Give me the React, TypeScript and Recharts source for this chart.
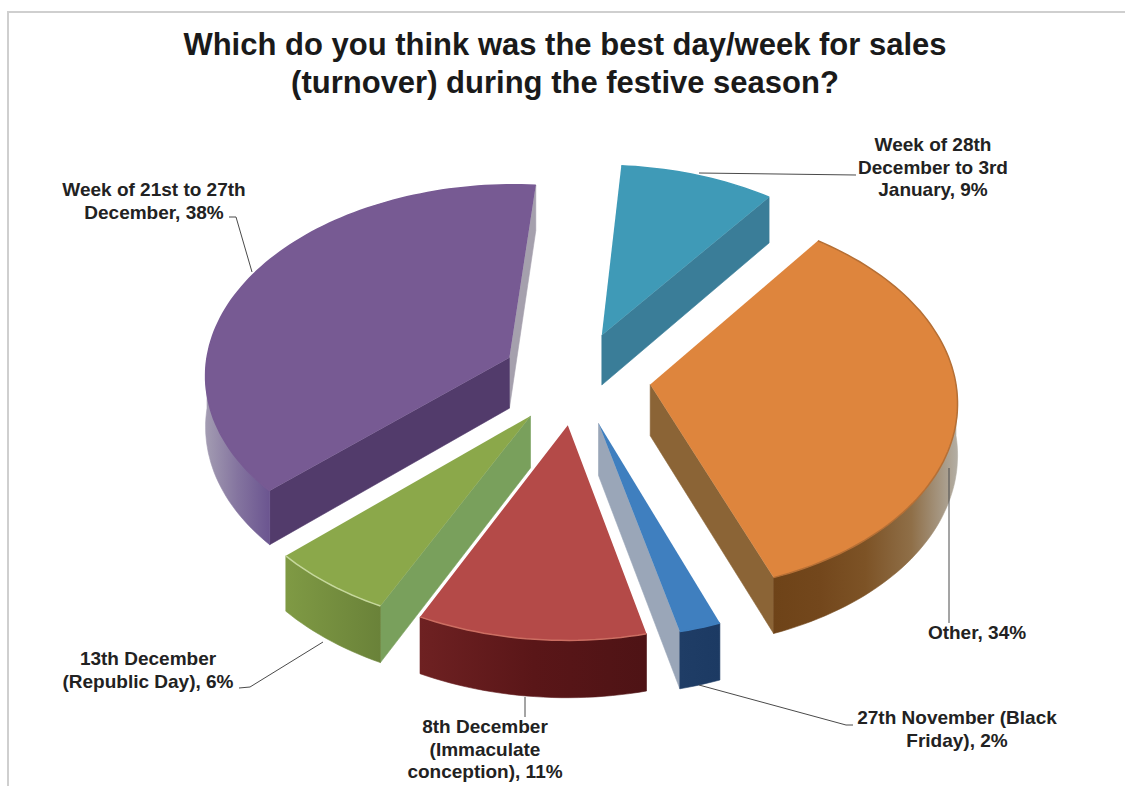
import React from 'react'
import { Pie, PieChart } from 'recharts'

// Listed counter-clockwise from the top so slices paint back to front
const categories = [
  'Week of 21st to 27th December',
  '13th December (Republic Day)',
  '8th December (Immaculate conception)',
  '27th November (Black Friday)',
  'Other',
  'Week of 28th December to 3rd January',
]
const shares = [38, 6, 11, 2, 34, 9]

const labelLines = [
  ['Week of 21st to 27th', 'December, 38%'],
  ['13th December', '(Republic Day), 6%'],
  ['8th December', '(Immaculate', 'conception), 11%'],
  ['27th November (Black', 'Friday), 2%'],
  ['Other, 34%'],
  ['Week of 28th', 'December to 3rd', 'January, 9%'],
]

const data = categories.map((name, i) => ({ name, value: shares[i] }))

const WIDTH = 1125
const HEIGHT = 786
const CENTER_X = 576
const CENTER_Y = 378
const RADIUS = 305
const RADIUS_Y = 190
const PERSPECTIVE = 0.08
const EXPLODE = 0.245
const DEPTH = 51

type SliceStyle = {
  top: string
  rim: string
  cutStart: string
  cutEnd: string
  wall: string[]
}

const sliceStyles: SliceStyle[] = [
  { top: '#775a93', rim: '#775a93', cutStart: '#523b6b', cutEnd: '#a5a0ad', wall: ['#a39cb2', '#84749f', '#6b5590'] },
  { top: '#8ba84a', rim: '#c6d89c', cutStart: '#79a05c', cutEnd: '#79a05c', wall: ['#7f9a44', '#6a8239'] },
  { top: '#b44a48', rim: '#cc6e62', cutStart: '#8a2f2e', cutEnd: '#8a2f2e', wall: ['#6e2122', '#5a1618', '#4e1315'] },
  { top: '#3f7fbf', rim: '#3f7fbf', cutStart: '#9aa6b8', cutEnd: '#9aa6b8', wall: ['#1f3d66', '#1c3a63'] },
  { top: '#de853d', rim: '#b56f35', cutStart: '#8b6436', cutEnd: '#8b6436', wall: ['#6e4318', '#73471c', '#7d5326', '#8f6f48', '#b3aea4'] },
  { top: '#3f9ab7', rim: '#3f9ab7', cutStart: '#3a7d98', cutEnd: '#3a7d98', wall: ['#3a7d98', '#3a7d98'] },
]

// Where each label sits and the elbow of its leader line
const labelLayout = [
  { x: 154, y: 196, leader: [[229, 217], [236, 217], [252, 272]] },
  { x: 148, y: 665, leader: [[239, 688], [250, 687], [323, 642]] },
  { x: 485, y: 733, leader: [[525, 697], [525, 717]] },
  { x: 957, y: 724, leader: [[699, 685], [846, 725], [853, 725]] },
  { x: 977, y: 639, leader: [[949, 468], [949, 623]] },
  { x: 933, y: 151, leader: [[699, 173], [856, 175]] },
]

const rad = (deg: number) => (deg * Math.PI) / 180

// Ground-plane point (unit disc) to screen, with a slight perspective
function project(u: number, v: number, lift = 0) {
  const s = 1 / (1 + PERSPECTIVE * v)
  return {
    x: CENTER_X + RADIUS * u * s,
    y: CENTER_Y - RADIUS_Y * v * s + lift * DEPTH * (1 - 0.1 * v),
  }
}

const toPath = (pts: { x: number; y: number }[]) =>
  'M' + pts.map((p) => `${p.x.toFixed(1)},${p.y.toFixed(1)}`).join('L') + 'Z'

function Slice3D(props: any) {
  const { startAngle, endAngle, index } = props
  const style = sliceStyles[index]

  // library angles run counter-clockwise from east, the model clockwise from north
  let from = 90 - endAngle
  let to = 90 - startAngle
  if (from < 0) {
    from += 360
    to += 360
  }
  const mid = (from + to) / 2
  const ax = EXPLODE * Math.sin(rad(mid))
  const az = EXPLODE * Math.cos(rad(mid))

  const rim = (deg: number, lift = 0) =>
    project(ax + Math.sin(rad(deg)), az + Math.cos(rad(deg)), lift)
  const arc = (a: number, b: number, lift = 0) => {
    const steps = Math.max(2, Math.ceil((b - a) / 1.5))
    return Array.from({ length: steps + 1 }, (_, i) => rim(a + ((b - a) * i) / steps, lift))
  }

  const apex = project(ax, az)
  const apexLow = project(ax, az, 1)
  const topArc = arc(from, to)

  const faces: { d: string; fill: string; y: number }[] = []
  if (Math.sin(rad(from)) < 0) {
    const pts = [apex, rim(from), rim(from, 1), apexLow]
    faces.push({ d: toPath(pts), fill: style.cutStart, y: (apex.y + rim(from).y) / 2 })
  }
  if (Math.sin(rad(to)) > 0) {
    const pts = [apex, rim(to), rim(to, 1), apexLow]
    faces.push({ d: toPath(pts), fill: style.cutEnd, y: (apex.y + rim(to).y) / 2 })
  }

  // outer wall, only the part turned towards the viewer
  const wallFrom = Math.max(from, 90)
  const wallTo = Math.min(to, 270)
  const gradientId = `wall-${index}`
  let wallPts: { x: number; y: number }[] = []
  if (wallTo > wallFrom) {
    wallPts = [...arc(wallFrom, wallTo), ...arc(wallFrom, wallTo, 1).reverse()]
    const maxY = Math.max(...wallPts.map((p) => p.y))
    faces.push({ d: toPath(wallPts), fill: `url(#${gradientId})`, y: maxY })
  }
  const xs = wallPts.map((p) => p.x)

  return (
    <g>
      {wallPts.length > 0 && (
        <defs>
          <linearGradient
            id={gradientId}
            gradientUnits="userSpaceOnUse"
            x1={Math.min(...xs)}
            x2={Math.max(...xs)}
            y1={0}
            y2={0}
          >
            {style.wall.map((c, i) => (
              <stop key={i} offset={i / (style.wall.length - 1)} stopColor={c} />
            ))}
          </linearGradient>
        </defs>
      )}
      {faces
        .sort((a, b) => a.y - b.y)
        .map((f, i) => (
          <path key={i} d={f.d} fill={f.fill} stroke={f.fill} strokeWidth={0.6} />
        ))}
      <path d={toPath([apex, ...topArc])} fill={style.top} />
      <path
        d={'M' + topArc.map((p) => `${p.x.toFixed(1)},${p.y.toFixed(1)}`).join('L')}
        fill="none"
        stroke={style.rim}
        strokeWidth={1.5}
      />
    </g>
  )
}

function renderLabel(props: any) {
  const { index } = props
  const { x, y, leader } = labelLayout[index]
  return (
    <g key={index}>
      <polyline
        points={leader.map((p) => p.join(',')).join(' ')}
        fill="none"
        stroke="#4a4a4a"
        strokeWidth={1}
      />
      <text
        x={x}
        y={y}
        textAnchor="middle"
        fontFamily="'Liberation Sans', Arial, sans-serif"
        fontWeight={700}
        fontSize={19}
        fill="#222"
      >
        {labelLines[index].map((line, i) => (
          <tspan key={i} x={x} dy={i === 0 ? 0 : 22.5}>
            {line}
          </tspan>
        ))}
      </text>
    </g>
  )
}

export default function App() {
  return (
    <div
      style={{
        position: 'absolute',
        left: 0,
        top: 0,
        width: WIDTH,
        height: HEIGHT,
        background: '#fff',
      }}
    >
      <div
        style={{
          position: 'absolute',
          left: 7,
          top: 11,
          right: 0,
          bottom: 0,
          borderTop: '2px solid #cfcfcf',
          borderLeft: '2px solid #cfcfcf',
        }}
      />
      <PieChart width={WIDTH} height={HEIGHT} margin={{ top: 0, right: 0, bottom: 0, left: 0 }}>
        <text
          x={565}
          textAnchor="middle"
          fontFamily="'Liberation Sans', Arial, sans-serif"
          fontWeight={700}
          fontSize={31}
          fill="#1a1a1a"
        >
          <tspan x={565} y={55}>Which do you think was the best day/week for sales</tspan>
          <tspan x={565} y={93}>(turnover) during the festive season?</tspan>
        </text>
        <Pie
          data={data}
          dataKey="value"
          nameKey="name"
          cx={CENTER_X}
          cy={CENTER_Y}
          outerRadius={RADIUS}
          startAngle={85.6}
          endAngle={445.6}
          stroke="none"
          shape={Slice3D}
          label={renderLabel}
          labelLine={false}
          isAnimationActive={false}
        />
      </PieChart>
    </div>
  )
}
